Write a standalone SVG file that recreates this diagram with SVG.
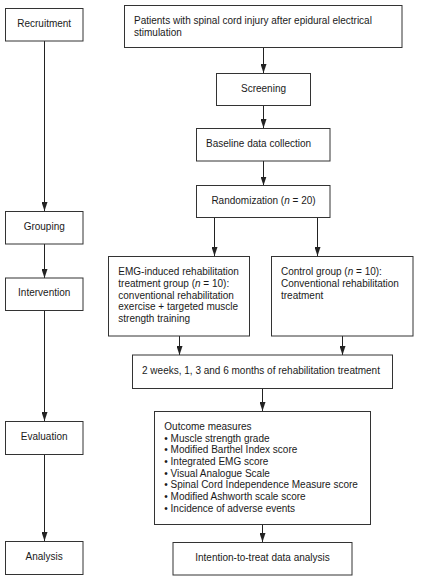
<svg xmlns="http://www.w3.org/2000/svg" width="421" height="585" viewBox="0 0 421 585">
<style>
rect{fill:#fff;stroke:#333;stroke-width:1}
text{font-family:"Liberation Sans",Arial,sans-serif;font-size:10px;fill:#1a1a1a}
.c{text-anchor:middle}
.l{stroke:#222;stroke-width:1;fill:none;marker-end:url(#ah)}
</style>
<defs>
<marker id="ah" markerWidth="9" markerHeight="6" refX="9" refY="3" orient="auto" markerUnits="userSpaceOnUse" viewBox="0 0 9 6">
<path d="M0,0 L9,3 L0,6 Z" fill="#222"/>
</marker>
</defs>
<rect width="421" height="585" style="stroke:none"/>
<g id="connectors">
<line class="l" x1="44.5" y1="41" x2="44.5" y2="211"/>
<line class="l" x1="44.5" y1="244" x2="44.5" y2="278"/>
<line class="l" x1="44.5" y1="310.5" x2="44.5" y2="421"/>
<line class="l" x1="44.5" y1="454.5" x2="44.5" y2="541"/>
<line class="l" x1="263.5" y1="47.5" x2="263.5" y2="73"/>
<line class="l" x1="263.5" y1="105.5" x2="263.5" y2="128"/>
<line class="l" x1="263.5" y1="161" x2="263.5" y2="185.5"/>
<line class="l" x1="214.5" y1="217.5" x2="214.5" y2="256"/>
<line class="l" x1="317.5" y1="217.5" x2="317.5" y2="256"/>
<line class="l" x1="179.5" y1="336" x2="179.5" y2="355"/>
<line class="l" x1="342.5" y1="336" x2="342.5" y2="355"/>
<line class="l" x1="262.5" y1="388.5" x2="262.5" y2="411"/>
<line class="l" x1="262.5" y1="524.5" x2="262.5" y2="542"/>
</g>
<g id="recruitment"><rect x="5.5" y="8.5" width="77.5" height="32.5"/><text class="c" x="44.2" y="27.3">Recruitment</text></g>
<g id="grouping"><rect x="5.5" y="211.5" width="77.5" height="32.5"/><text class="c" x="44.2" y="229.6">Grouping</text></g>
<g id="intervention"><rect x="5.5" y="278" width="77.5" height="32.5"/><text class="c" x="44.2" y="295.9">Intervention</text></g>
<g id="evaluation"><rect x="5.5" y="421.5" width="77.5" height="33"/><text class="c" x="44.2" y="439.9">Evaluation</text></g>
<g id="analysis"><rect x="5.5" y="541.5" width="77.5" height="33"/><text class="c" x="44.2" y="560.3">Analysis</text></g>
<g id="patients"><rect x="124.5" y="5.5" width="277.5" height="42"/><text x="134" y="23.9">Patients with spinal cord injury after epidural electrical</text><text x="134" y="35.9">stimulation</text></g>
<g id="screening"><rect x="216.5" y="73.5" width="94" height="32"/><text class="c" x="263.5" y="92.3">Screening</text></g>
<g id="baseline"><rect x="196.5" y="128.5" width="133.5" height="32.5"/><text x="206" y="147.3">Baseline data collection</text></g>
<g id="randomization"><rect x="196.5" y="185.5" width="133.5" height="32"/><text class="c" x="263.5" y="203.9">Randomization (<tspan font-style="italic">n</tspan> = 20)</text></g>
<g id="emg"><rect x="108.5" y="256.5" width="141" height="79.5"/>
<text x="118.3" y="275.3">EMG-induced rehabilitation</text>
<text x="118.3" y="287.3">treatment group (<tspan font-style="italic">n</tspan> = 10):</text>
<text x="118.3" y="298.6">conventional rehabilitation</text>
<text x="118.3" y="310.3">exercise + targeted muscle</text>
<text x="118.3" y="321.9">strength training</text></g>
<g id="control"><rect x="271.5" y="256.5" width="141.5" height="79.5"/>
<text x="281" y="275.3">Control group (<tspan font-style="italic">n</tspan> = 10):</text>
<text x="281" y="287.3">Conventional rehabilitation</text>
<text x="281" y="298.6">treatment</text></g>
<g id="timepoints"><rect x="132.5" y="355" width="260" height="33.5"/><text class="c" x="261" y="373.9">2 weeks, 1, 3 and 6 months of rehabilitation treatment</text></g>
<g id="outcomes"><rect x="154.5" y="411.5" width="216" height="113"/>
<text x="164.3" y="430.3">Outcome measures</text>
<text x="164.3" y="441.9">• Muscle strength grade</text>
<text x="164.3" y="453.1">• Modified Barthel Index score</text>
<text x="164.3" y="465.3">• Integrated EMG score</text>
<text x="164.3" y="476.9">• Visual Analogue Scale</text>
<text x="164.3" y="487.9">• Spinal Cord Independence Measure score</text>
<text x="164.3" y="499.9">• Modified Ashworth scale score</text>
<text x="164.3" y="511.9">• Incidence of adverse events</text></g>
<g id="itt"><rect x="173" y="542.5" width="179" height="32.5"/><text class="c" x="262.5" y="560.9">Intention-to-treat data analysis</text></g>
</svg>
